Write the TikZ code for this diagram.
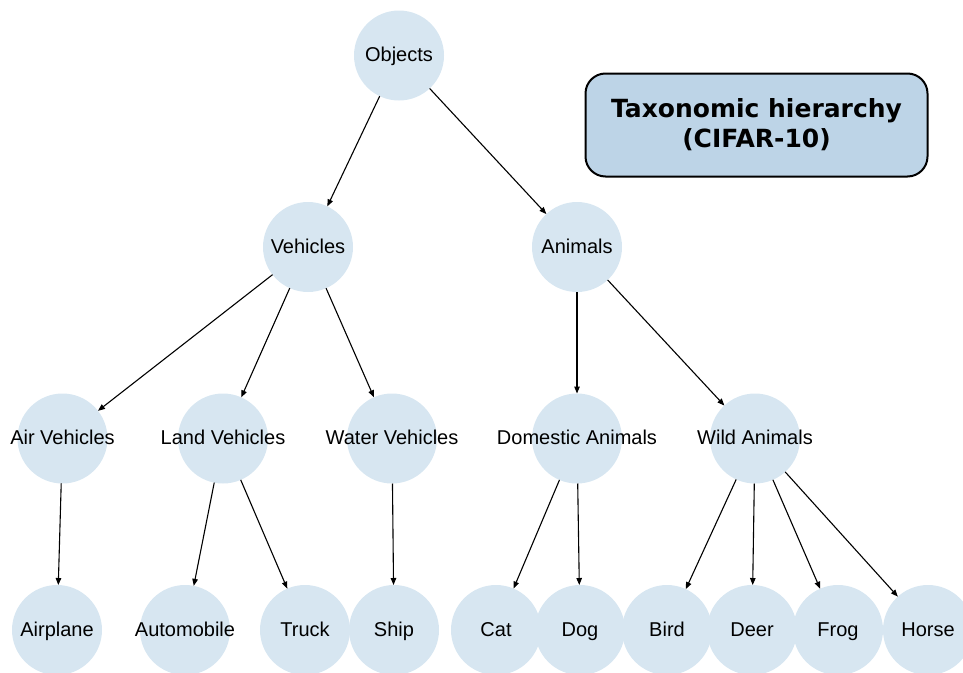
\documentclass[tikz,border=0pt]{standalone}
\usepackage{fontspec}
\setmainfont{Liberation Sans}
\newfontfamily\titlefont{DejaVu Sans}
\usetikzlibrary{arrows.meta}
\definecolor{circfill}{RGB}{215,230,241}
\definecolor{titlefill}{RGB}{189,212,231}
\tikzset{
  tnode/.style={circle, fill=circfill, minimum size=90pt, inner sep=0pt, outer sep=0pt},
  tlabel/.style={font=\fontsize{20pt}{24pt}\selectfont, text=black, inner sep=0pt,
    text height=15pt, text depth=3pt},
  tarrow/.style={-{Triangle[length=7pt,width=5.5pt]}, line width=1.1pt, black},
}
\newcommand{\tn}[4]{\node[tnode, label={[tlabel]center:#4}] (#1) at (#2,#3) {};}
\begin{document}
\begin{tikzpicture}[x=1pt,y=-1pt]
\useasboundingbox (0,0) rectangle (963,672);
\tn{obj}{399}{55.5}{Objects}
\tn{veh}{308}{247}{Vehicles}
\tn{ani}{577}{247}{Animals}
\tn{air}{62.5}{438.5}{Air Vehicles}
\tn{land}{223}{438.5}{Land Vehicles}
\tn{water}{392}{438.5}{Water Vehicles}
\tn{dom}{577}{438.5}{Domestic Animals}
\tn{wild}{755}{438.5}{Wild Animals}
\tn{plane}{57}{630}{Airplane}
\tn{auto}{185}{630}{Automobile}
\tn{truck}{305}{630}{Truck}
\tn{ship}{394}{630}{Ship}
\tn{cat}{496}{630}{Cat}
\tn{dog}{580}{630}{Dog}
\tn{bird}{667}{630}{Bird}
\tn{deer}{752}{630}{Deer}
\tn{frog}{838}{630}{Frog}
\tn{horse}{928}{630}{Horse}
\foreach \a/\b in {obj/veh, obj/ani, veh/air, veh/land, veh/water, ani/dom, ani/wild,
  air/plane, land/auto, land/truck, water/ship, dom/cat, dom/dog,
  wild/bird, wild/deer, wild/frog, wild/horse}
  \draw[tarrow] (\a) -- (\b);
\node[draw=black, line width=2pt, fill=titlefill, rounded corners=20pt,
  minimum width=342pt, minimum height=103pt, align=center,
  font=\titlefont\bfseries\fontsize{25pt}{30pt}\selectfont] (title) at (756.5,125)
  {Taxonomic hierarchy\\(CIFAR-10)};
\end{tikzpicture}
\end{document}
